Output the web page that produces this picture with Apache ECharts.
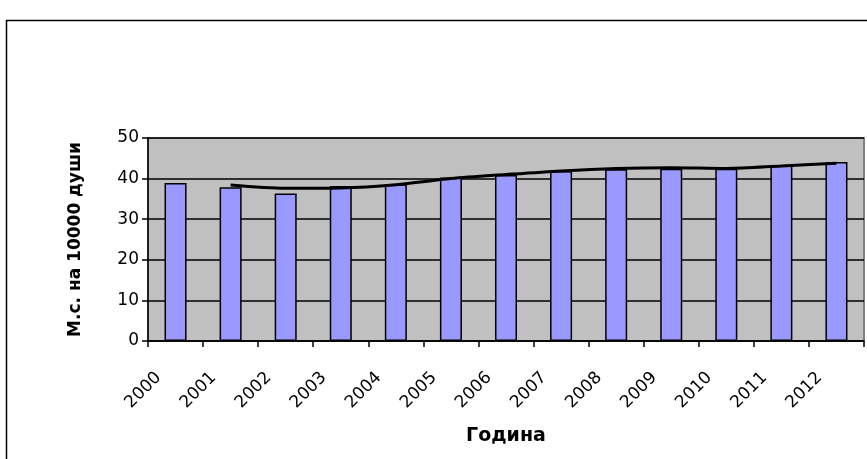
<!DOCTYPE html>
<html>
<head>
<meta charset="utf-8">
<script src="https://cdn.jsdelivr.net/npm/echarts@6/dist/echarts.min.js"></script>
<style>
  html, body { margin: 0; padding: 0; background: #fff; }
  #chart { width: 867px; height: 459px; }
</style>
</head>
<body>
<div id="chart"></div>
<script>
// Hospital beds per 10 000 people, by year
const years = ['2000', '2001', '2002', '2003', '2004', '2005', '2006',
               '2007', '2008', '2009', '2010', '2011', '2012'];
const beds = [38.9, 37.9, 36.3, 38.2, 38.6, 40.3, 40.9, 41.9, 42.3, 42.4, 42.4, 43.2, 44.1];
// two-period moving-average trend line (starts at the second year)
const trend = [null, 38.4, 37.6, 37.7, 38.5, 40.0, 41.0, 41.9, 42.5, 42.7, 42.5, 43.1, 43.8];
const yTicks = { min: 0, max: 50, step: 10 };

const FONT = '"DejaVu Sans", "Liberation Sans", sans-serif';

const chart = echarts.init(document.getElementById('chart'), null, { renderer: 'canvas' });

chart.setOption({
  animation: false,
  backgroundColor: '#ffffff',
  graphic: [{
    type: 'rect',
    shape: { x: 6.5, y: 20.5, width: 900, height: 500 },
    style: { fill: 'none', stroke: '#000', lineWidth: 1.5 },
    silent: true,
    z: -1
  }],
  grid: {
    left: 148, right: 3, top: 138, bottom: 118,
    show: true,
    backgroundColor: '#C0C0C0',
    borderColor: '#808080',
    borderWidth: 2
  },
  xAxis: {
    type: 'category',
    data: years,
    name: 'Година',
    nameLocation: 'middle',
    nameGap: 86,
    nameTextStyle: { fontFamily: FONT, fontSize: 19, fontWeight: 'bold', color: '#000' },
    axisLine: { lineStyle: { color: '#000', width: 1.5 } },
    axisTick: { show: true, length: 6, lineStyle: { color: '#000', width: 1.5 } },
    axisLabel: {
      rotate: 45,
      margin: 17,
      padding: [0, 24, 0, 0],
      interval: 0,
      fontFamily: FONT,
      fontSize: 17,
      color: '#000'
    },
    splitLine: { show: false }
  },
  yAxis: {
    type: 'value',
    min: yTicks.min,
    max: yTicks.max,
    interval: yTicks.step,
    name: 'М.с. на 10000 души',
    nameLocation: 'middle',
    nameRotate: 90,
    nameGap: 64,
    nameTextStyle: { fontFamily: FONT, fontSize: 17, fontWeight: 'bold', color: '#000' },
    axisLine: { show: true, lineStyle: { color: '#000', width: 1.5 } },
    axisTick: { show: true, length: 6, lineStyle: { color: '#000', width: 1.5 } },
    axisLabel: { margin: 9, fontFamily: FONT, fontSize: 17, color: '#000' },
    splitLine: { show: true, lineStyle: { color: '#000', width: 1.5 } }
  },
  series: [
    {
      type: 'bar',
      data: beds,
      barWidth: '40%',
      itemStyle: { color: '#9999FF', borderColor: '#000', borderWidth: 1.5 }
    },
    {
      type: 'line',
      data: trend,
      smooth: 0.3,
      symbol: 'none',
      connectNulls: false,
      lineStyle: { color: '#000', width: 3 },
      z: 3
    }
  ]
});
</script>
</body>
</html>
